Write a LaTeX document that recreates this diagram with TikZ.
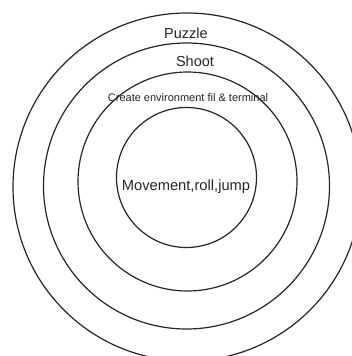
\documentclass[tikz,border=0pt]{standalone}
\usepackage{fontspec}
\setmainfont{Liberation Sans}
\begin{document}
\begin{tikzpicture}[x=1pt,y=-1pt,
  ring/.style={circle,draw=black!85,line width=1.2pt,inner sep=0pt,outer sep=0pt},
  lbl/.style={inner sep=0pt,text=black!85}]
\useasboundingbox (0,0) rectangle (352,356);
\fill[white] (0,0) rectangle (352,356);
\node[ring,minimum size=348pt] (outer) at (187,187) {};
\node[ring,minimum size=286pt] (second) at (186.5,186) {};
\node[ring,minimum size=219pt] (third) at (187.5,181.5) {};
\node[ring,minimum size=140pt] (inner) at (186.5,177.5) {};
\node[lbl,font=\fontsize{14.5}{16}\selectfont] (puzzle) at (186,33) {Puzzle};
\node[lbl,font=\fontsize{14.5}{16}\selectfont] (shoot) at (195,61) {Shoot};
\node[lbl,font=\fontsize{11}{13}\selectfont] (create) at (188,98) {Create environment fil \& terminal};
\node[lbl,font=\fontsize{14.7}{16}\selectfont] (move) at (186,187) {Movement,roll,jump};
\end{tikzpicture}
\end{document}
